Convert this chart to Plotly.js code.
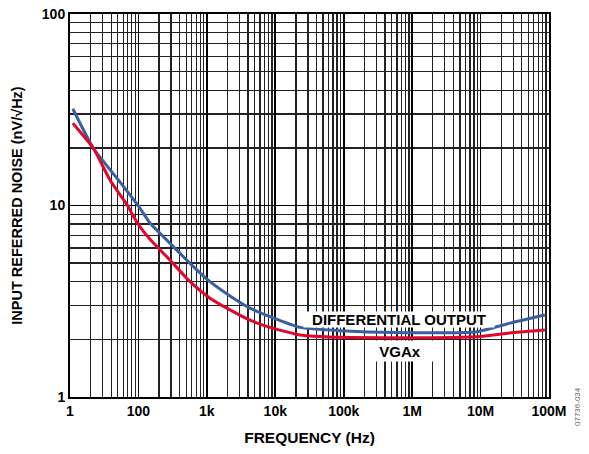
<!DOCTYPE html>
<html>
<head>
<meta charset="utf-8">
<script src="https://cdn.plot.ly/plotly-3.0.1.min.js"></script>
<style>html,body{margin:0;padding:0;background:#fff;}#chart{width:589px;height:454px;}</style>
</head>
<body>
<div id="chart"></div>
<script>
// Frequency (Hz) and input referred noise (nV/rtHz)
const diffFreq = [11, 21.9, 50.8, 105, 147.5, 289, 567, 1111, 2178, 4267, 8368, 22960, 88300, 590000, 8.8e6, 2.69e7, 8.7e7];
const diffNoise = [32, 19.9, 13.6, 9.7, 8.1, 6.35, 4.99, 4.0, 3.37, 2.91, 2.63, 2.31, 2.22, 2.17, 2.19, 2.43, 2.68];

const vgaFreq = [11, 21.9, 38.4, 71.1, 79.7, 105, 147.5, 289, 567, 1111, 2178, 4267, 8368, 22960, 88300, 1.82e6, 9.8e6, 3.0e7, 8.7e7];
const vgaNoise = [26.9, 19.9, 13.6, 9.86, 9.1, 7.75, 6.66, 5.19, 4.0, 3.28, 2.85, 2.52, 2.31, 2.11, 2.05, 2.04, 2.07, 2.17, 2.24];

const xTickVals = [10, 100, 1e3, 1e4, 1e5, 1e6, 1e7, 1e8];
const xTickText = ["1", "100", "1k", "10k", "100k", "1M", "10M", "100M"];
const yTickVals = [1, 10, 100];
const yTickText = ["1", "10", "100"];

function minorVals(lo, hi) {
  const out = [];
  for (let d = lo; d < hi; d *= 10) for (let k = 2; k <= 9; k++) out.push(d * k);
  return out;
}
const bold = a => a.map(s => "<b>" + s + "</b>");

const font = "Liberation Sans, Arial, Helvetica, sans-serif";

const traces = [
  {x: diffFreq, y: diffNoise, mode: "lines", line: {color: "#3A5FA0", width: 3, shape: "spline", smoothing: 0.5}, hoverinfo: "skip"},
  {x: vgaFreq, y: vgaNoise, mode: "lines", line: {color: "#E2062C", width: 3, shape: "spline", smoothing: 0.5}, hoverinfo: "skip"}
];

const layout = {
  width: 589, height: 454,
  margin: {l: 70, r: 40, t: 14, b: 57},
  paper_bgcolor: "#fff", plot_bgcolor: "#fff",
  showlegend: false,
  font: {family: font, color: "#000"},
  xaxis: {
    type: "log", range: [1, 8],
    tickvals: xTickVals, ticktext: bold(xTickText),
    tickfont: {size: 14, family: font},
    ticks: "", ticklen: 0,
    showgrid: true, gridcolor: "#000", gridwidth: 1.8,
    minor: {tickvals: minorVals(10, 1e8), showgrid: true, gridcolor: "#222", gridwidth: 1.3, ticks: ""},
    showline: true, mirror: true, linecolor: "#000", linewidth: 2,
    zeroline: false,
    title: {text: "<b>FREQUENCY (Hz)</b>", font: {size: 15.5, family: font}, standoff: 14}
  },
  yaxis: {
    type: "log", range: [0, 2],
    tickvals: yTickVals, ticktext: bold(yTickText),
    tickfont: {size: 14, family: font},
    ticks: "", ticklen: 0,
    showgrid: true, gridcolor: "#000", gridwidth: 1.8,
    minor: {tickvals: minorVals(1, 100), showgrid: true, gridcolor: "#222", gridwidth: 1.3, ticks: ""},
    showline: true, mirror: true, linecolor: "#000", linewidth: 2,
    zeroline: false,
    title: {text: "<b>INPUT REFERRED NOISE (nV/√Hz)</b>", font: {size: 14.5, family: font}, standoff: 16}
  },
  annotations: [
    {x: 5.808, y: 0.407, xref: "x", yref: "y", text: "<b>DIFFERENTIAL OUTPUT</b>", showarrow: false,
     font: {size: 15, family: font, color: "#000"}, bgcolor: "#fff", width: 190, height: 15, borderpad: 0},
    {x: 5.82, y: 0.240, xref: "x", yref: "y", text: "<b>VGAx</b>", showarrow: false,
     font: {size: 15, family: font, color: "#000"}, bgcolor: "#fff", width: 66, height: 20, borderpad: 0},
    {x: 584, y: 428, xref: "paper", yref: "paper", text: "07736-034", showarrow: false, textangle: -90,
     font: {size: 8, family: font, color: "#666"}}
  ]
};
// convert the ID label position from pixels to paper fraction
layout.annotations[2].x = (584 - 70) / 479;
layout.annotations[2].y = (397 - 428) / 383;

Plotly.newPlot("chart", traces, layout, {staticPlot: true, displayModeBar: false});
</script>
</body>
</html>
